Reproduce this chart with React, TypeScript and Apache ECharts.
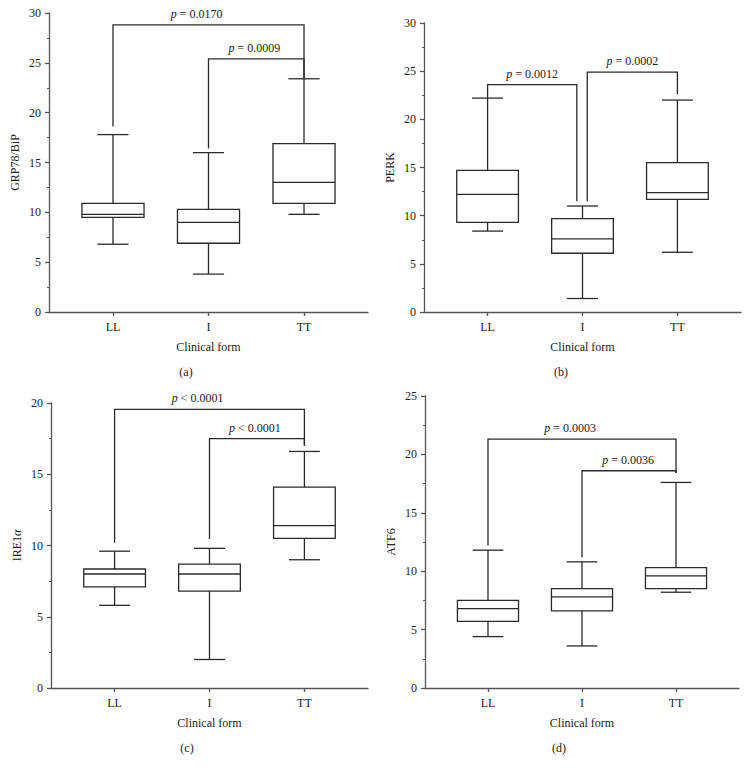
import React, { useEffect, useRef } from 'react';
import * as echarts from 'echarts';

const categories = ['LL', 'I', 'TT'];

// [min, Q1, median, Q3, max] per clinical form
const grp78Boxes = [
  [6.8, 9.5, 9.8, 10.9, 17.8],
  [3.8, 6.9, 9.0, 10.3, 16.0],
  [9.8, 10.9, 13.0, 16.9, 23.4],
];
const perkBoxes = [
  [8.4, 9.3, 12.2, 14.7, 22.2],
  [1.4, 6.1, 7.6, 9.7, 11.0],
  [6.2, 11.7, 12.4, 15.5, 22.0],
];
const ire1Boxes = [
  [5.8, 7.1, 8.0, 8.35, 9.6],
  [2.0, 6.8, 8.0, 8.7, 9.8],
  [9.0, 10.5, 11.4, 14.1, 16.6],
];
const atf6Boxes = [
  [4.4, 5.7, 6.8, 7.5, 11.8],
  [3.6, 6.6, 7.8, 8.5, 10.8],
  [8.2, 8.5, 9.6, 10.3, 17.6],
];

// significance brackets: [fromCategory, toCategory, barHeight, leftLegEnd, rightLegEnd]
const grp78Brackets = [
  [0, 2, 28.8, 18.6, 23.4],
  [1, 2, 25.4, 16.4, 23.4],
];
const perkBrackets = [
  [0, 0.94, 23.6, 22.2, 11.5],
  [1.05, 2, 24.9, 11.5, 22.6],
];
const ire1Brackets = [
  [0, 2, 19.55, 10.2, 17.0],
  [1, 2, 17.5, 10.45, 17.0],
];
const atf6Brackets = [
  [0, 2, 21.3, 12.2, 18.4],
  [1, 2, 18.6, 11.2, 18.4],
];

const grp78PValues = ['= 0.0170', '= 0.0009'];
const perkPValues = ['= 0.0012', '= 0.0002'];
const ire1PValues = ['< 0.0001', '< 0.0001'];
const atf6PValues = ['= 0.0003', '= 0.0036'];

const yMaxes = [30, 30, 20, 25];
const panelLetters = ['(a)', '(b)', '(c)', '(d)'];

const FONT = 'Liberation Serif';
const LINE = '#2a2a2a';
const AXIS = '#555';

const panels = [
  { boxes: grp78Boxes, brackets: grp78Brackets, pv: grp78PValues, yName: 'GRP78/BiP', grid: { left: 49, top: 13, width: 319, height: 299 }, shifts: [-12, -2], letter: [186, 372] },
  { boxes: perkBoxes, brackets: perkBrackets, pv: perkPValues, yName: 'PERK', grid: { left: 424, top: 23, width: 317, height: 289 }, shifts: [0, 0], letter: [561, 372] },
  { boxes: ire1Boxes, brackets: ire1Brackets, pv: ire1PValues, yName: '{n|IRE1}{g|α}', grid: { left: 51, top: 403, width: 317, height: 285 }, shifts: [-12, -2], letter: [187, 748] },
  { boxes: atf6Boxes, brackets: atf6Brackets, pv: atf6PValues, yName: 'ATF6', grid: { left: 425, top: 396, width: 314, height: 292 }, shifts: [-12, -1], letter: [559, 748] },
];

function buildOption() {
  const grid: any[] = [];
  const xAxis: any[] = [];
  const yAxis: any[] = [];
  const series: any[] = [];
  const graphic: any[] = [];

  panels.forEach((p, i) => {
    grid.push({ ...p.grid, containLabel: false });
    xAxis.push({
      type: 'value',
      gridIndex: i,
      min: -0.67,
      max: 2.67,
      splitLine: { show: false },
      axisLine: { show: true, onZero: false, lineStyle: { color: AXIS, width: 1.3 } },
      axisTick: { show: true, customValues: [0, 1, 2], length: 4, lineStyle: { color: AXIS, width: 1.3 } },
      axisLabel: {
        customValues: [0, 1, 2],
        formatter: (v: number) => categories[Math.round(v)] ?? '',
        margin: 9,
        color: '#222',
        fontFamily: FONT,
        fontSize: 12,
      },
      name: 'Clinical form',
      nameLocation: 'middle',
      nameGap: 29,
      nameTextStyle: { color: '#222', fontFamily: FONT, fontSize: 12 },
    });
    yAxis.push({
      type: 'value',
      gridIndex: i,
      min: 0,
      max: yMaxes[i],
      interval: 5,
      splitLine: { show: false },
      axisLine: { show: true, onZero: false, lineStyle: { color: AXIS, width: 1.3 } },
      axisTick: { show: true, length: 4, lineStyle: { color: AXIS, width: 1.3 } },
      minorTick: { show: true, splitNumber: 2, length: 2, lineStyle: { color: AXIS, width: 1.2 } },
      axisLabel: { margin: 8, color: '#222', fontFamily: FONT, fontSize: 12 },
      name: p.yName,
      nameLocation: 'middle',
      nameGap: 28,
      nameTextStyle: {
        color: '#222',
        fontFamily: FONT,
        fontSize: 12,
        rich: {
          n: { fontFamily: FONT, fontSize: 12, color: '#222' },
          g: { fontFamily: FONT, fontSize: 12, color: '#222', fontStyle: 'italic' },
        },
      },
    });

    series.push({
      type: 'custom',
      xAxisIndex: i,
      yAxisIndex: i,
      data: p.boxes.map((b, k) => [k, ...b]),
      encode: { x: 0, y: [1, 2, 3, 4, 5] },
      renderItem: (params: any, api: any) => {
        const x = api.value(0);
        const mn = api.value(1), q1 = api.value(2), md = api.value(3), q3 = api.value(4), mx = api.value(5);
        const unit = api.size([1, 0])[0];
        const hw = unit * 0.325;
        const cw = unit * 0.163;
        const c = api.coord([x, 0])[0];
        const y = (v: number) => api.coord([x, v])[1];
        const st = { stroke: LINE, lineWidth: 1.3, fill: 'none' };
        return {
          type: 'group',
          children: [
            { type: 'rect', shape: { x: c - hw, y: y(q3), width: 2 * hw, height: y(q1) - y(q3) }, style: { ...st, fill: '#fff' } },
            { type: 'line', shape: { x1: c - hw, y1: y(md), x2: c + hw, y2: y(md) }, style: st },
            { type: 'line', shape: { x1: c, y1: y(q3), x2: c, y2: y(mx) }, style: st },
            { type: 'line', shape: { x1: c, y1: y(q1), x2: c, y2: y(mn) }, style: st },
            { type: 'line', shape: { x1: c - cw, y1: y(mx), x2: c + cw, y2: y(mx) }, style: st },
            { type: 'line', shape: { x1: c - cw, y1: y(mn), x2: c + cw, y2: y(mn) }, style: st },
          ],
        };
      },
      silent: true,
    });

    series.push({
      type: 'custom',
      xAxisIndex: i,
      yAxisIndex: i,
      data: p.brackets.map((b, k) => [...b, k]),
      encode: { x: [0, 1], y: [2, 3, 4] },
      renderItem: (params: any, api: any) => {
        const f = api.value(0), t = api.value(1), h = api.value(2), l = api.value(3), r = api.value(4);
        const k = api.value(5);
        const a = api.coord([f, l]);
        const b = api.coord([f, h]);
        const c = api.coord([t, h]);
        const d = api.coord([t, r]);
        const cx = (b[0] + c[0]) / 2 + p.shifts[k];
        return {
          type: 'group',
          children: [
            { type: 'polyline', shape: { points: [a, b, c, d] }, style: { stroke: LINE, lineWidth: 1.3, fill: 'none' } },
            {
              type: 'text',
              x: cx,
              y: b[1] - 11,
              style: {
                text: '{i|p} ' + p.pv[k],
                align: 'center',
                verticalAlign: 'middle',
                fontFamily: FONT,
                fontSize: 12,
                fill: '#222',
                rich: {
                  i: { fontFamily: FONT, fontSize: 12, fontStyle: 'italic', fill: '#222' },
                },
              },
            },
          ],
        };
      },
      silent: true,
    });

    graphic.push({
      type: 'text',
      x: p.letter[0],
      y: p.letter[1],
      style: { text: panelLetters[i], align: 'center', verticalAlign: 'middle', fontFamily: FONT, fontSize: 12, fill: '#222' },
    });
  });

  return { animation: false, backgroundColor: '#fff', grid, xAxis, yAxis, series, graphic };
}

export default function App() {
  const ref = useRef<HTMLDivElement>(null);
  useEffect(() => {
    document.body.style.margin = '0';
    if (!ref.current) return;
    const chart = echarts.init(ref.current, null, { renderer: 'svg' });
    chart.setOption(buildOption() as any);
    return () => chart.dispose();
  }, []);
  return <div ref={ref} style={{ width: 749, height: 774 }} />;
}
